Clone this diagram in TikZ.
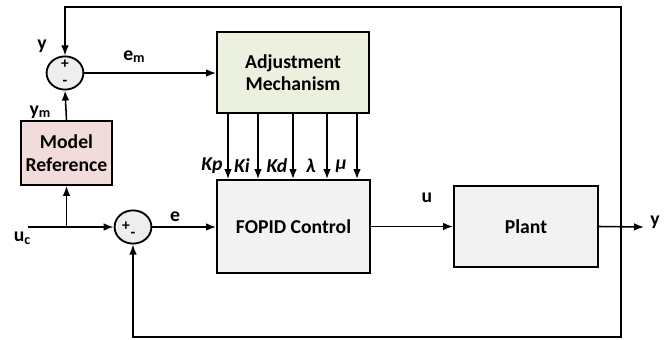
\documentclass[tikz,border=0pt]{standalone}
\usepackage{fontspec}
\setmainfont{Carlito}
\usepackage{xcolor}
\definecolor{adjgreen}{RGB}{235, 241, 222}
\definecolor{refpink}{RGB}{242, 220, 219}
\definecolor{blockgray}{RGB}{242, 242, 242}
\definecolor{sumgray}{RGB}{238, 238, 238}
\usetikzlibrary{arrows.meta,shapes.geometric}
\newcommand{\lbl}{\fontsize{14}{16}\selectfont\bfseries}

\begin{document}
\begin{tikzpicture}[x=0.025cm,y=-0.025cm,line width=1.1pt,
    >={Latex[length=2.5mm,width=1.9mm]},
    block/.style={draw,line width=1.3pt,inner sep=0pt,align=center,font=\lbl},
    sumnode/.style={draw,ellipse,line width=1.3pt,fill=sumgray,inner sep=0pt,
      minimum width=0.92cm,minimum height=0.83cm},
    sign/.style={inner sep=0pt,font=\fontsize{11}{11}\selectfont\bfseries},
    tag/.style={inner sep=0pt,font=\lbl}]
  \useasboundingbox (0,0) rectangle (670,340);
  \node[block,fill=adjgreen,minimum width=3.8cm,minimum height=2.025cm]
    (adj) at (293,72.5) {Adjustment\\Mechanism};
  \node[block,fill=refpink,minimum width=2.275cm,minimum height=1.6cm]
    (mref) at (66.5,153) {Model\\Reference};
  \node[block,fill=blockgray,minimum width=3.825cm,minimum height=2.325cm]
    (fopid) at (293.5,226.5) {FOPID Control};
  \node[block,fill=blockgray,minimum width=3.6cm,minimum height=2.025cm]
    (plant) at (526,226.5) {Plant};
  \node[sumnode] (sum1) at (65,73) {};
  \node[sumnode] (sum2) at (133,227) {};
  \node[sign] (p1) at (65,64) {+};
  \node[sign] (m1) at (65,83) {-};
  \node[sign] (p2) at (126,226) {+};
  \node[sign] (m2) at (133,235) {-};

  \coordinate (uc) at (28,227);
  \coordinate (split) at (mref.south |- uc);
  \coordinate (tap) at (621,227);
  \coordinate (yout) at (644,227);
  \coordinate (top) at (621,7);
  \coordinate (bot) at (621,337);

  \draw[->] (uc) -- (sum2.west);
  \draw[->] (split) -- (mref.south);
  \draw[->] (mref.north) -- (sum1.south);
  \draw[->] (sum1.east) -- (adj.west |- sum1.east);
  \draw[->] (sum2.east) -- (fopid.west |- sum2.east);
  \draw[->] (fopid.east) -- (plant.west);
  \draw[->] (plant.east) -- (yout);
  \draw[->] (tap) -- (top) -| (sum1.north);
  \draw[->] (tap) -- (bot) -| (sum2.south);

  \foreach \x/\gain [count=\i] in {228/Kp,258/Ki,293/Kd,327/\symbol{"03BB},357/\symbol{"03BC}}{
    \draw[->] (adj.south -| \x,0) -- (fopid.north -| \x,0);
    \node[tag,font=\lbl\itshape] (gain\i) at (\x-16,166) {\gain};
  }

  \node[tag] (ylbl) at (42,46) {y};
  \node[tag] (emlbl) at (134,57) {e\raisebox{-0.2ex}{\fontsize{10}{10}\selectfont m}};
  \node[tag] (ymlbl) at (40,112) {y\raisebox{-0.2ex}{\fontsize{10}{10}\selectfont m}};
  \node[tag] (uclbl) at (22,238) {u\raisebox{-0.3ex}{\fontsize{10}{10}\selectfont c}};
  \node[tag] (elbl) at (175,217) {e};
  \node[tag] (ulbl) at (427,198) {u};
  \node[tag] (youtlbl) at (655,222) {y};
\end{tikzpicture}
\end{document}
